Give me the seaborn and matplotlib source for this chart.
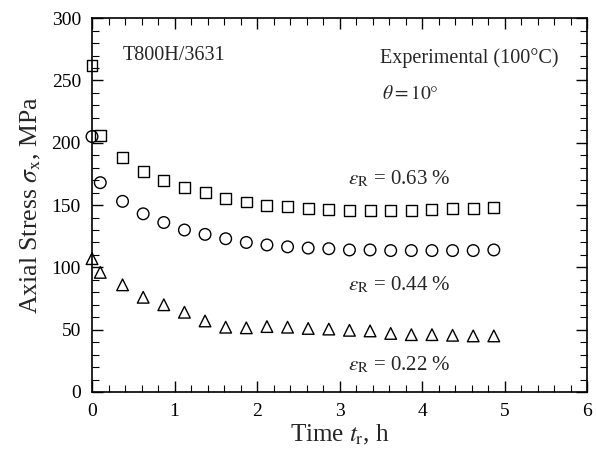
import matplotlib
matplotlib.use("Agg")
import matplotlib.pyplot as plt
import seaborn as sns
import pandas as pd
from matplotlib.ticker import MultipleLocator

sns.set_theme(style="ticks")
plt.rcParams['font.family'] = ['Liberation Serif', 'DejaVu Serif']
plt.rcParams['mathtext.fontset'] = 'stix'

time_h = [0.0, 0.1, 0.37, 0.62, 0.87, 1.12, 1.37, 1.62, 1.87, 2.12, 2.37,
          2.62, 2.87, 3.12, 3.37, 3.62, 3.87, 4.12, 4.37, 4.62, 4.87]
stress_063 = [262, 206, 188, 177, 170, 164, 160, 155.5, 152.5, 150, 149,
              147, 146.5, 146, 146, 146, 146, 146.5, 147, 147.5, 148]
stress_044 = [205, 168, 153, 143, 136, 130, 126.5, 123, 120, 118, 116.5,
              115.5, 115, 114, 114, 113.5, 113.5, 113.5, 113.5, 113.5, 114]
stress_022 = [107, 96, 86, 76, 70, 64, 57, 52, 51.5, 52.5, 52,
              51, 50.5, 49.5, 49, 47, 46, 46, 45.5, 45, 45]

df = pd.DataFrame({"t": time_h, "s063": stress_063, "s044": stress_044, "s022": stress_022})

fig = plt.figure(figsize=(5.96, 4.55), dpi=100)
ax = fig.add_axes([0.1544, 0.1385, 0.8306, 0.8215])

for col, mk, sz in [("s063", "s", 62), ("s044", "o", 70), ("s022", "^", 70)]:
    sns.scatterplot(data=df, x="t", y=col, marker=mk, s=sz, facecolors="none",
                    edgecolor="black", linewidth=1.0, ax=ax, clip_on=False, zorder=3)

ax.set_xlim(0, 6)
ax.set_ylim(0, 300)
ax.xaxis.set_major_locator(MultipleLocator(1))
ax.xaxis.set_minor_locator(MultipleLocator(0.2))
ax.yaxis.set_major_locator(MultipleLocator(50))
ax.yaxis.set_minor_locator(MultipleLocator(10))
ax.tick_params(which="both", direction="in", top=True, right=True, colors="black",
               labelsize=14)
ax.tick_params(which="major", length=8, width=1.0, pad=8)
ax.tick_params(which="minor", length=5, width=0.8)
for sp in ax.spines.values():
    sp.set_linewidth(1.2)
    sp.set_color("black")

ax.set_xlabel(r"Time $t_{\mathrm{r}}$, h", fontsize=18, labelpad=2)
ax.set_ylabel(r"Axial Stress $\sigma_{\mathrm{x}}$, MPa", fontsize=18.5, labelpad=6)

ax.text(0.37, 270, "T800H/3631", fontsize=14.5, va="center", ha="left")
ax.text(5.65, 268, "Experimental (100°C)", fontsize=14.5, va="center", ha="right")
ax.text(3.52, 239, r"$\theta = 10°$", fontsize=14, va="center", ha="left")
ax.text(3.72, 171, r"$\varepsilon_{\mathrm{R}}$ = 0.63 %", fontsize=15, va="center", ha="center")
ax.text(3.72, 86, r"$\varepsilon_{\mathrm{R}}$ = 0.44 %", fontsize=15, va="center", ha="center")
ax.text(3.72, 22, r"$\varepsilon_{\mathrm{R}}$ = 0.22 %", fontsize=15, va="center", ha="center")

fig.savefig("out.png", dpi=100)
